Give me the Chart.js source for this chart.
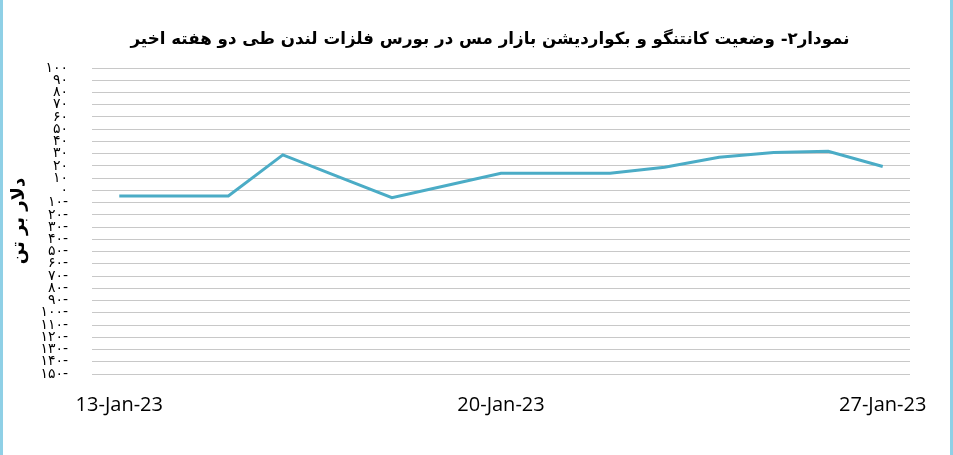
<!DOCTYPE html>
<html>
<head>
<meta charset="utf-8">
<script src="https://cdn.jsdelivr.net/npm/chart.js@4"></script>
<style>
  html, body { margin: 0; padding: 0; background: #ffffff; }
  #wrap { position: relative; width: 953px; height: 455px; background: #ffffff; overflow: hidden; }
  #c { position: absolute; left: 0; top: 0; }
  .edge { position: absolute; top: 0; height: 455px; width: 3px; background: #8fd0e6; }
</style>
</head>
<body>
<div id="wrap">
  <canvas id="c" width="953" height="455"></canvas>
  <div class="edge" style="left:0"></div>
  <div class="edge" style="left:950px"></div>
</div>
<script>
// ---- Data ----
const categories = [
  '13-Jan-23','14-Jan-23','15-Jan-23','16-Jan-23','17-Jan-23','18-Jan-23','19-Jan-23',
  '20-Jan-23','21-Jan-23','22-Jan-23','23-Jan-23','24-Jan-23','25-Jan-23','26-Jan-23','27-Jan-23'
];
const shownDateLabels = ['13-Jan-23', '20-Jan-23', '27-Jan-23'];
const spreadValues = [-4.5, -4.5, -4.5, 29, 11.5, -6, 4, 14, 14, 14, 19, 27, 31, 32, 19.5];
const yTickValues = [100, 90, 80, 70, 60, 50, 40, 30, 20, 10, 0, -10, -20, -30, -40, -50,
  -60, -70, -80, -90, -100, -110, -120, -130, -140, -150];
const chartTitle = 'نمودار۲- وضعیت کانتنگو و بکواردیشن بازار مس در بورس فلزات لندن طی دو هفته اخیر';
const yAxisTitle = 'دلار بر تن';

const faDigits = ['۰','۱','۲','۳','۴','۵','۶','۷','۸','۹'];
function toFa(v) {
  const s = String(Math.abs(v)).replace(/[0-9]/g, d => faDigits[+d]);
  return v < 0 ? s + '-' : s;
}

// Title drawn as canvas text, centred where the reference places it
const titlePlugin = {
  id: 'refTitle',
  afterDraw(chart) {
    const ctx = chart.ctx;
    ctx.save();
    ctx.font = 'bold 16.7px "DejaVu Sans"';
    ctx.fillStyle = '#000000';
    ctx.textAlign = 'center';
    ctx.textBaseline = 'middle';
    ctx.fillText(chartTitle, 490, 40);
    ctx.restore();
  }
};

new Chart(document.getElementById('c'), {
  type: 'line',
  data: {
    labels: categories,
    datasets: [{
      data: spreadValues,
      borderColor: '#4bacc6',
      borderWidth: 3,
      pointRadius: 0,
      tension: 0,
      fill: false
    }]
  },
  plugins: [titlePlugin],
  options: {
    responsive: false,
    animation: false,
    layout: { padding: { left: 0, right: 43, top: 68, bottom: 19 } },
    plugins: {
      legend: { display: false },
      tooltip: { enabled: false },
      title: { display: false }
    },
    scales: {
      x: {
        type: 'category',
        offset: true,
        grid: { display: false, drawTicks: false },
        border: { display: false },
        ticks: {
          autoSkip: false,
          maxRotation: 0,
          padding: 19,
          color: '#000000',
          font: { family: 'Open Sans', size: 20 },
          callback: function (val) {
            const l = this.getLabelForValue(val);
            return shownDateLabels.includes(l) ? l : '';
          }
        }
      },
      y: {
        min: -150,
        max: 100,
        afterBuildTicks: (scale) => { scale.ticks = yTickValues.map(v => ({ value: v })); },
        afterFit: (scale) => { scale.width = 92; },
        grid: { color: '#c8c8c8', lineWidth: 1, drawTicks: false },
        border: { display: false },
        ticks: {
          autoSkip: false,
          padding: 24,
          color: '#000000',
          font: { family: 'DejaVu Sans', size: 14 },
          callback: (v) => toFa(v)
        },
        title: {
          display: true,
          text: yAxisTitle,
          color: '#000000',
          font: { family: 'DejaVu Sans', size: 18, weight: 'bold' },
          padding: { top: 9, bottom: 0 }
        }
      }
    }
  }
});
</script>
</body>
</html>
